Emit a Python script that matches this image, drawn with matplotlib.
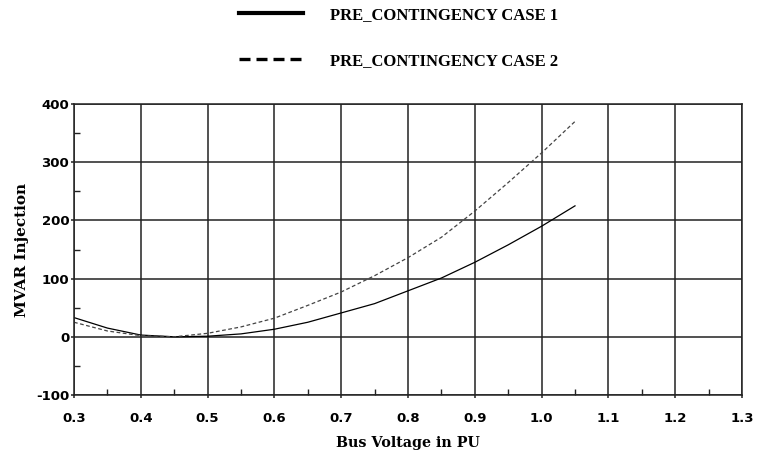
import matplotlib
matplotlib.use("Agg")
import matplotlib.pyplot as plt
from matplotlib.ticker import MultipleLocator

voltage = [0.30, 0.35, 0.40, 0.45, 0.50, 0.55, 0.60, 0.65, 0.70, 0.75,
           0.80, 0.85, 0.90, 0.95, 1.00, 1.05]
case1 = [33, 15, 3, 0, 1, 5, 13, 25, 41, 57, 79, 101, 128, 158, 190, 225]
case2 = [25, 10, 2, 0, 6, 17, 32, 54, 77, 105, 136, 171, 216, 265, 316, 370]

label1 = "PRE_CONTINGENCY CASE 1"
label2 = "PRE_CONTINGENCY CASE 2"
xlabel = "Bus Voltage in PU"
ylabel = "MVAR Injection"

W, H = 759, 459
fig = plt.figure(figsize=(W / 100, H / 100), dpi=100)
ax = fig.add_axes([74 / W, (H - 395) / H, 668 / W, 291 / H])

l1, = ax.plot(voltage, case1, color="black", lw=0.9, label=label1)
l2, = ax.plot(voltage, case2, color="#444444", lw=0.9, ls=(0, (3, 2)), label=label2)

ax.set_xlim(0.3, 1.3)
ax.set_ylim(-100, 400)
ax.xaxis.set_major_locator(MultipleLocator(0.1))
ax.xaxis.set_minor_locator(MultipleLocator(0.05))
ax.yaxis.set_major_locator(MultipleLocator(100))
ax.yaxis.set_minor_locator(MultipleLocator(50))
ax.grid(True, which="major", color="#222222", lw=1.1)
for s in ax.spines.values():
    s.set_color("#222222")
    s.set_linewidth(1.1)
ax.tick_params(which="major", direction="out", length=2.5, width=1.1, color="#222222")
ax.tick_params(which="minor", direction="in", length=4, width=1, color="#222222")
ax.xaxis.set_major_formatter(plt.FuncFormatter(lambda v, p: f"{v:.1f}"))
ax.yaxis.set_major_formatter(plt.FuncFormatter(lambda v, p: f"{int(round(v))}"))
for t in ax.get_xticklabels() + ax.get_yticklabels():
    t.set_fontfamily("DejaVu Sans")
    t.set_fontweight("bold")
    t.set_fontsize(9.5)
ax.tick_params(axis="y", pad=1)
ax.tick_params(axis="x", pad=10)

ax.set_xlabel(xlabel, fontdict={"family": "DejaVu Serif", "weight": "bold", "size": 10.3},
              labelpad=8)
ax.set_ylabel(ylabel, fontdict={"family": "DejaVu Serif", "weight": "bold", "size": 11},
              labelpad=5)

leg = fig.legend(handles=[l1, l2], loc="upper left",
                 bbox_to_anchor=(239 / W, 1 - 7 / H), frameon=False, borderpad=0,
                 borderaxespad=0,
                 prop={"family": "Liberation Serif", "weight": "bold", "size": 12},
                 handlelength=3.84, handletextpad=1.62, labelspacing=1.8)
h1, h2 = leg.get_lines()
h1.set_linewidth(3)
h1.set_color("black")
h2.set_linewidth(2.4)
h2.set_color("black")
h2.set_linestyle((0, (3.3, 1.8)))

fig.savefig("out.png", dpi=100)
